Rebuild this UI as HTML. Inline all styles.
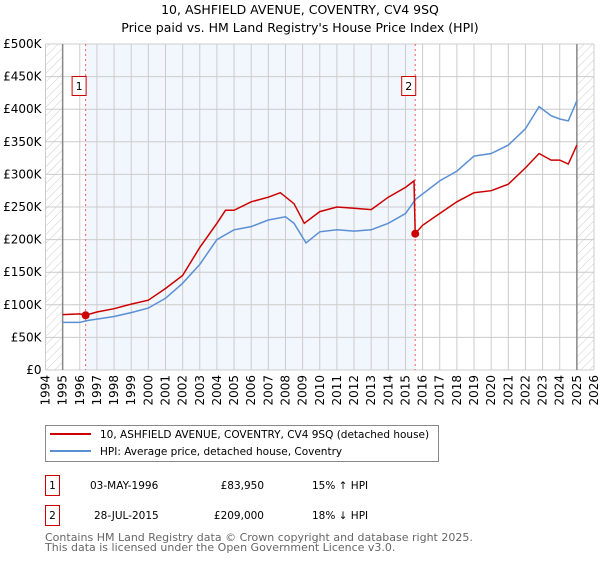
<!DOCTYPE html>
<html><head><meta charset="utf-8"><style>
body{margin:0;background:#fff;font-family:"Liberation Sans","DejaVu Sans",sans-serif;}
svg text{font-family:"DejaVu Sans","Liberation Sans",sans-serif;}
</style></head><body>
<svg id="c" width="600" height="560" xmlns="http://www.w3.org/2000/svg">
<defs><pattern id="hatch" width="6" height="6" patternUnits="userSpaceOnUse" patternTransform="rotate(45)"><line x1="0" y1="0" x2="0" y2="6" stroke="#ccc" stroke-width="1"/></pattern></defs>
<text x="300" y="14" text-anchor="middle" font-size="12.5">10, ASHFIELD AVENUE, COVENTRY, CV4 9SQ</text>
<text x="300" y="32" text-anchor="middle" font-size="12.5">Price paid vs. HM Land Registry's House Price Index (HPI)</text>
<g id="plot"></g>
<g>
<rect x="45.5" y="425.5" width="393" height="36" fill="#fff" stroke="#888"/>
<line x1="50" y1="434" x2="91" y2="434" stroke="#cc0000" stroke-width="2"/>
<text x="100" y="438" font-size="10.5">10, ASHFIELD AVENUE, COVENTRY, CV4 9SQ (detached house)</text>
<line x1="50" y1="451" x2="91" y2="451" stroke="#5b8fd4" stroke-width="2"/>
<text x="100" y="455" font-size="10.5">HPI: Average price, detached house, Coventry</text>
</g>
<g font-size="10.5">
<rect x="45.5" y="475.5" width="14" height="20" fill="#fff" stroke="#cc0000"/><text x="52.5" y="489" text-anchor="middle">1</text>
<text x="90" y="489">03-MAY-1996</text><text x="264" y="489" text-anchor="end">£83,950</text><text x="312" y="489">15% ↑ HPI</text>
<rect x="45.5" y="505.5" width="14" height="20" fill="#fff" stroke="#cc0000"/><text x="52.5" y="519" text-anchor="middle">2</text>
<text x="94" y="519">28-JUL-2015</text><text x="264" y="519" text-anchor="end">£209,000</text><text x="312" y="519">18% ↓ HPI</text>
</g>
<text x="45" y="541" font-size="11" fill="#666">Contains HM Land Registry data © Crown copyright and database right 2025.</text>
<text x="45" y="551" font-size="11" fill="#666">This data is licensed under the Open Government Licence v3.0.</text>
</svg>
<script>
const hpiYears=[1995,1996,1996.5,1997,1998,1999,2000,2001,2002,2003,2004,2005,2006,2007,2008,2008.5,2009.2,2010,2011,2012,2013,2014,2015,2015.6,2016,2017,2018,2019,2020,2021,2022,2022.8,2023.5,2024,2024.5,2025];
const hpiValues=[73,73,76,78,82,88,95,110,133,162,200,215,220,230,235,225,195,212,215,213,215,225,240,262,270,290,305,328,332,345,370,404,390,385,382,413];
const propYears=[1995,1996,1996.34,1997,1998,1999,2000,2001,2002,2003,2004,2004.5,2005,2006,2007,2007.7,2008.5,2009.1,2010,2011,2012,2013,2014,2015,2015.5,2015.57,2016,2017,2018,2019,2020,2021,2022,2022.8,2023.5,2024,2024.5,2025];
const propValues=[85,86,84,89,94,101,107,125,145,188,225,245,245,258,265,272,255,225,243,250,248,246,265,280,290,209,222,240,258,272,275,285,310,332,322,322,316,345];
const saleYears=[1996.34,2015.57];
const saleValues=[83.95,209];
const yTicks=[0,50,100,150,200,250,300,350,400,450,500];
const xTicks=[1994,1995,1996,1997,1998,1999,2000,2001,2002,2003,2004,2005,2006,2007,2008,2009,2010,2011,2012,2013,2014,2015,2016,2017,2018,2019,2020,2021,2022,2023,2024,2025,2026];
const L=45.5,R=594,T=44,B=370;
const x=y=>L+(y-1994)/32*(R-L);
const yv=v=>B-v/500*(B-T);
const g=document.getElementById('plot');
const NS='http://www.w3.org/2000/svg';
function mk(t,a){const e=document.createElementNS(NS,t);for(const k in a)e.setAttribute(k,a[k]);g.appendChild(e);return e;}
let e;
e=mk('rect',{x:x(1996.34),y:T,width:x(2015.57)-x(1996.34),height:B-T,fill:'#f2f6fd'});


e=mk('rect',{x:L,y:T,width:x(1995)-L,height:B-T,fill:'url(#hatch)'});


e=mk('rect',{x:x(2025),y:T,width:R-x(2025),height:B-T,fill:'url(#hatch)'});


yTicks.forEach(v=>{
 e=mk('line',{x1:L,x2:R,y1:yv(v),y2:yv(v),stroke:'#ccc'});
 
 
 e=mk('text',{x:L-4,y:yv(v)+4,'text-anchor':'end','font-size':'12'});
 e.textContent=v===0?'£0':'£'+v+'K';
 
 
});
xTicks.forEach(t=>{
 e=mk('line',{x1:x(t),x2:x(t),y1:T,y2:B,stroke:'#ccc'});
 
 
 e=mk('text',{x:0,y:0,'font-size':'12','text-anchor':'end',transform:`translate(${x(t)+4},${B+5}) rotate(-90)`});
 e.textContent=t;
 
 
});
[1995,2025].forEach(t=>{e=mk('line',{x1:x(t),x2:x(t),y1:T,y2:B,stroke:'#888','stroke-width':1.5});

});
saleYears.forEach((t,i)=>{
 e=mk('line',{x1:x(t),x2:x(t),y1:T,y2:B,stroke:'#f06060','stroke-dasharray':'2,3'});
 
 
 e=mk('rect',{x:x(t)-13.5,y:76.5,width:14,height:19,fill:'#fff',stroke:'#cc0000'});
 
 
 e=mk('text',{x:x(t)-6.5,y:90,'text-anchor':'middle','font-size':'11'});e.textContent=i+1;
 
 
});
const path=(xs,vs)=>xs.map((t,i)=>(i?'L':'M')+x(t).toFixed(1)+','+yv(vs[i]).toFixed(1)).join('');
e=mk('path',{d:path(hpiYears,hpiValues),fill:'none',stroke:'#5b8fd4','stroke-width':1.5});


e=mk('path',{d:path(propYears,propValues),fill:'none',stroke:'#cc0000','stroke-width':1.5});


saleYears.forEach((t,i)=>{e=mk('circle',{cx:x(t),cy:yv(saleValues[i]),r:4,fill:'#cc0000'});

});
</script>
</body></html>
